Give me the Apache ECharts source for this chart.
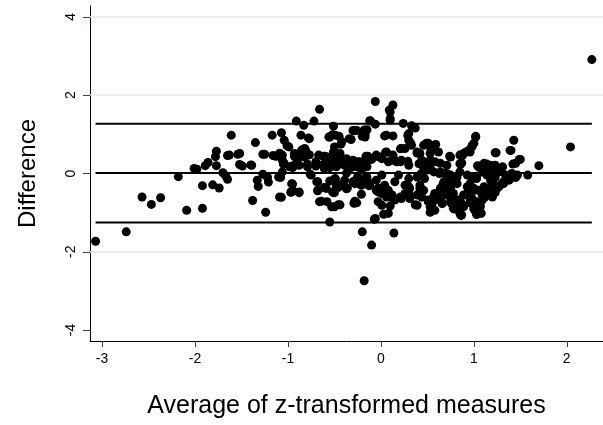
<!DOCTYPE html>
<html>
<head>
<meta charset="utf-8">
<script src="https://cdn.jsdelivr.net/npm/echarts@6/dist/echarts.min.js"></script>
<style>
  html, body { margin: 0; padding: 0; background: #fff; }
  #chart { width: 603px; height: 425px; }
</style>
</head>
<body>
<div id="chart"></div>
<script>
// Bland-Altman plot: average of z-transformed measures vs difference

// [average, difference] pairs
const points = [
  [-3.07,-1.73],[-2.74,-1.49],[-2.57,-0.60],[-2.47,-0.79],[-2.37,-0.62],[-2.18,-0.08],[-2.09,-0.94],[-2.01,0.13],
  [-1.98,0.11],[-1.92,-0.31],[-1.92,-0.89],[-1.89,0.20],[-1.86,0.28],[-1.81,-0.29],[-1.78,0.43],[-1.77,0.57],
  [-1.77,0.20],[-1.74,-0.37],[-1.70,0.02],[-1.67,-0.06],[-1.65,-0.15],[-1.65,0.46],[-1.61,0.98],[-1.54,0.49],
  [-1.52,0.23],[-1.49,0.19],[-1.40,0.22],[-1.38,-0.69],[-1.35,0.79],[-1.33,-0.17],[-1.32,-0.33],[-1.27,0.49],
  [-1.27,-0.02],[-1.24,-0.99],[-1.22,-0.10],[-1.21,-0.22],[-1.17,0.98],[-1.16,0.46],[-1.10,-0.09],[-1.09,-0.60],
  [-1.07,1.04],[-1.07,0.44],[-1.05,0.24],[-1.04,0.85],[-1.01,0.71],[-0.99,0.68],[-0.98,0.17],[-0.97,-0.48],
  [-0.96,-0.26],[-0.93,0.44],[-0.91,1.34],[-0.91,0.26],[-0.88,-0.49],[-0.86,0.98],[-0.85,0.60],[-0.83,1.23],
  [-0.82,0.64],[-0.80,0.46],[-0.79,0.24],[-0.78,0.91],[-0.76,-0.02],[-0.72,1.34],[-0.69,-0.21],[-0.68,-0.44],
  [-0.67,0.47],[-0.66,1.64],[-0.66,-0.72],[-0.61,0.13],[-0.60,0.44],[-0.59,-0.37],[-0.58,-0.72],[-0.56,0.40],
  [-0.55,-1.24],[-0.56,0.93],[-0.55,0.20],[-0.53,-0.85],[-0.51,1.21],[-0.52,0.99],[-0.51,-0.49],[-0.50,-0.14],
  [-0.50,0.68],[-0.48,-0.31],[-0.46,-0.80],[-0.46,0.23],[-0.45,0.95],[-0.44,0.51],[-0.43,0.75],[-0.41,0.33],
  [-0.37,-0.39],[-0.37,0.01],[-0.34,0.89],[-0.30,1.10],[-0.30,0.21],[-0.29,-0.76],[-0.26,-0.13],[-0.24,-0.25],
  [-0.22,0.26],[-0.21,-0.53],[-0.20,-1.49],[-0.20,0.95],[-0.18,-2.74],[-0.18,1.11],[-0.16,0.44],[-0.15,-0.09],
  [-0.13,-0.31],[-0.12,1.35],[-0.10,-1.83],[-0.07,-1.17],[-0.06,1.26],[-0.06,1.84],[-0.05,0.47],[-0.05,-0.17],
  [-0.03,-0.72],[-0.03,-0.47],[0.04,0.96],[0.03,-1.04],[0.05,0.54],[0.09,1.62],[0.10,1.40],[0.10,-0.60],
  [0.10,-0.83],[0.13,1.75],[0.13,0.96],[0.14,-1.52],[0.13,0.43],[0.21,-0.62],[0.21,0.63],[0.24,1.28],
  [0.29,0.97],[0.29,0.31],[0.30,-0.34],[0.33,1.22],[0.32,0.78],[0.37,1.16],[0.37,-0.80],[0.39,0.52],
  [0.42,-0.47],[0.48,0.75],[0.50,0.09],[0.51,-0.72],[0.53,-0.99],[0.54,0.60],[0.57,-0.58],[0.58,0.72],
  [0.63,0.00],[0.66,-0.75],[0.68,-0.21],[0.71,0.00],[0.74,0.44],[0.76,-0.48],[0.79,-0.91],[0.81,-0.85],
  [0.83,-0.68],[0.86,0.24],[0.86,-1.07],[0.88,0.47],[0.91,0.54],[0.96,-0.75],[0.98,0.71],[1.00,-0.91],
  [1.02,0.95],[1.03,-1.05],[1.04,0.20],[1.06,-0.81],[1.11,-0.58],[1.12,0.23],[1.19,-0.41],[1.23,-0.49],
  [1.24,0.53],[1.24,0.17],[1.31,0.17],[1.32,-0.21],[1.40,0.59],[1.42,0.24],[1.43,0.85],[1.45,-0.10],
  [1.49,0.36],[1.58,-0.04],[1.70,0.20],[2.04,0.68],[2.27,2.91],
  // left-centre cloud
  [-0.93,0.51],[-0.77,0.48],[-0.77,0.89],[-1.09,0.52],[-1.06,0.34],[-0.89,0.38],[-0.82,0.42],[-0.59,0.42],
  [-0.51,0.34],[-0.44,0.42],[-0.37,0.38],[-0.30,0.34],[-0.25,0.30],[-0.95,0.19],[-0.88,0.21],[-0.79,0.17],
  [-0.70,0.19],[-0.62,0.23],[-0.55,0.15],[-0.48,0.17],[-0.39,0.25],[-0.32,0.15],[-0.26,0.19],[-1.06,0.04],
  [-0.75,-0.04],[-1.08,-0.09],[-0.68,-0.21],[-0.55,-0.19],[-0.48,-0.24],[-0.39,-0.17],[-0.30,-0.21],[-0.25,-0.19],
  [-0.95,-0.43],[-0.88,-0.47],[-0.68,-0.43],[-0.61,-0.36],[-0.52,-0.47],[-0.46,-0.36],[-1.07,-0.61],[-0.64,-0.71],
  [-0.50,-0.85],[-0.44,-0.80],[-0.28,-0.71],[-0.55,0.93],[-0.49,0.98],[-0.42,0.81],[-0.32,0.87],[-0.28,1.09],
  [-0.16,1.09],[-0.17,0.93],[-1.63,0.47],[-1.52,0.51],[-1.39,0.21],[-1.25,0.49],[-1.13,0.44],[-1.06,0.47],
  [-1.04,0.26],[-0.95,0.15],[-0.86,0.55],[-0.81,0.59],[-0.70,0.30],[-0.62,0.44],[-0.55,0.42],[-0.51,0.55],
  [-0.44,0.34],[-0.39,0.21],[-0.32,0.27],[-0.19,0.30],[-0.14,0.44],[-0.05,0.44],[-1.08,-0.10],[-0.95,-0.27],
  [-0.96,-0.47],[-0.59,-0.38],[-0.49,-0.13],[-0.50,-0.49],[-0.42,-0.30],[-0.36,-0.37],[-0.28,-0.75],[-0.21,-0.26],
  [-0.12,-0.30],[-0.05,-0.43],
  // centre cloud
  [0.10,1.57],[-0.11,1.34],[0.10,1.36],[-0.26,1.10],[-0.15,1.12],[-0.17,0.99],[0.06,0.98],[0.30,0.85],
  [0.26,0.64],[0.39,0.55],[0.46,0.72],[0.06,0.55],[-0.23,0.30],[-0.14,0.34],[0.01,0.38],[0.08,0.30],
  [0.13,0.34],[0.17,0.30],[0.22,0.34],[0.30,0.21],[0.41,0.25],[0.44,0.34],[-0.26,0.17],[-0.21,0.08],
  [-0.15,0.17],[-0.25,-0.09],[-0.17,-0.13],[-0.28,-0.26],[-0.21,-0.30],[-0.14,-0.21],[0.01,-0.04],[-0.03,-0.38],
  [0.04,-0.30],[0.08,-0.43],[0.01,-0.51],[0.06,-0.60],[0.12,-0.55],[0.15,-0.68],[0.21,-0.60],[0.26,-0.51],
  [0.31,-0.64],[0.39,-0.55],[0.26,-0.30],[0.15,-0.21],[0.19,-0.04],[0.30,-0.13],[0.39,-0.09],[0.44,0.00],
  [0.42,-0.30],[0.46,0.17],[-0.26,-0.75],[0.01,-0.81],[0.08,-1.02],[0.39,-0.81],[-0.06,-1.15],
  [0.30,1.02],[0.33,0.72],[1.02,0.93],[1.00,0.77],[0.96,0.55],[0.85,0.47],[0.87,0.27],[0.75,0.42],
  [0.51,0.77],[0.59,0.74],[0.55,0.59],[0.62,0.55],[0.22,0.64],[-0.01,0.42],[-0.10,0.36],[0.13,0.47],
  [0.21,0.30],[0.46,0.30],[0.53,0.34],[0.64,0.26],[0.71,0.21],[1.07,0.19],[1.14,0.24],[1.23,0.53],
  // right cloud
  [0.98,0.68],[0.49,0.77],[0.53,0.51],[0.42,0.51],[0.89,0.51],[0.94,0.58],[0.85,0.25],[0.49,0.25],
  [0.58,0.30],[0.46,0.08],[0.53,0.13],[0.42,-0.04],[0.47,-0.13],[0.57,0.04],[1.05,0.17],[1.11,0.21],
  [1.14,0.13],[1.18,0.08],[1.27,0.08],[1.09,0.04],[1.14,-0.04],[1.18,-0.17],[1.23,-0.09],[0.64,0.04],
  [0.69,0.00],[0.75,-0.04],[0.82,-0.09],[0.85,0.04],[0.93,-0.04],[0.98,-0.13],[1.03,-0.07],[0.69,-0.26],
  [0.76,-0.21],[0.67,-0.43],[0.75,-0.38],[0.64,-0.60],[0.71,-0.55],[0.78,-0.51],[0.58,-0.68],[0.66,-0.77],
  [0.75,-0.72],[0.80,-0.77],[0.85,-0.68],[0.89,-0.85],[0.87,-1.06],[0.78,-0.89],[0.93,-0.34],[0.98,-0.47],
  [1.00,-0.38],[1.05,-0.43],[1.09,-0.55],[0.98,-0.64],[1.03,-0.72],[1.07,-0.85],[1.02,-0.98],[1.12,-0.60],
  [1.18,-0.43],[1.25,-0.38],[1.21,-0.26],[1.20,-0.60],[0.53,-0.85],[0.58,-0.94],[0.51,-0.68],[0.44,-0.60],
  [0.46,-0.43],[0.42,-0.38],[0.04,-0.51],[0.12,-0.60],[0.22,-0.64],[0.31,-0.55],[0.31,-0.38],[0.55,-0.77],
  [0.60,-0.64],[0.58,-0.51],[0.64,-0.38],[0.67,-0.26],[0.71,-0.43],[0.75,-0.60],[0.76,-0.77],[0.85,-1.02],
  [0.87,-0.77],[0.89,-0.55],[0.96,-0.64],[0.94,-0.43],[1.00,-0.85],[1.03,-1.02],[1.07,-0.77],[1.12,-0.51],
  [1.21,-0.43],[1.27,-0.34],[1.32,-0.26],[1.43,-0.09],[1.47,-0.04],[0.96,-0.26],[1.03,-0.13],[0.82,-0.26],
  [0.75,-0.13],[1.11,-0.34],[1.39,0.59],[1.50,0.36],[1.45,0.26],[1.11,0.26],[1.18,0.21],[1.23,0.21],
  [1.30,0.13],[1.21,0.00],[1.27,0.04],[1.34,-0.04],[1.41,0.00],[1.45,-0.09],[1.38,-0.17],[1.30,-0.26],
  [1.25,-0.34],[1.21,-0.47],[1.16,-0.38],[1.11,-0.51],[1.09,-0.68],[1.08,-1.02]
];

// mean difference and limits of agreement
const meanDiff = 0.01;
const upperLimit = 1.27;
const lowerLimit = -1.25;

const xTicks = [-3, -2, -1, 0, 1, 2];
const yTicks = [-4, -2, 0, 2, 4];
const gridLevels = [4, 2, -2];

// horizontal lines run from the smallest to the largest average
const xs = points.map(function(p) { return p[0]; });
const xLo = Math.min.apply(null, xs);
const xHi = Math.max.apply(null, xs);

function hLine(v) {
    return {
        type: 'line',
        data: [[xLo, v], [xHi, v]],
        symbol: 'none',
        silent: true,
        z: 4,
        lineStyle: { color: '#000', width: 2 }
    };
}

const chart = echarts.init(document.getElementById('chart'), null, { renderer: 'canvas' });

const FONT = 'Liberation Sans, Arial, sans-serif';

chart.setOption({
    animation: false,
    backgroundColor: '#fff',
    grid: { left: 90, right: 0, top: 6, bottom: 84 },
    xAxis: {
        type: 'value',
        min: -3.13,
        max: 2.39,
        name: 'Average of z-transformed measures',
        nameLocation: 'middle',
        nameGap: 53,
        nameTextStyle: { fontFamily: FONT, fontSize: 25, color: '#000' },
        axisLine: { show: true, onZero: false, lineStyle: { color: '#000', width: 1 } },
        axisTick: { show: true, length: 6, customValues: xTicks, lineStyle: { color: '#444' } },
        axisLabel: { customValues: xTicks, margin: 11, fontFamily: FONT, fontSize: 14, color: '#000' },
        splitLine: { show: false }
    },
    yAxis: {
        type: 'value',
        min: -4.28,
        max: 4.28,
        name: 'Difference',
        nameLocation: 'middle',
        nameRotate: 90,
        nameGap: 50,
        nameTextStyle: { fontFamily: FONT, fontSize: 24, color: '#000' },
        axisLine: { show: true, onZero: false, lineStyle: { color: '#000', width: 1 } },
        axisTick: { show: true, length: 7, customValues: yTicks, lineStyle: { color: '#444' } },
        axisLabel: { customValues: yTicks, rotate: 90, margin: 12, fontFamily: FONT, fontSize: 14, color: '#000' },
        splitLine: { show: false }
    },
    series: [
        {
            // light grid lines at the labelled levels
            type: 'line',
            data: [],
            silent: true,
            markLine: {
                silent: true,
                symbol: 'none',
                label: { show: false },
                lineStyle: { color: '#dfe6f0', width: 1.5, type: 'solid' },
                data: gridLevels.map(function(v) { return { yAxis: v }; })
            }
        },
        {
            type: 'scatter',
            data: points,
            symbol: 'circle',
            symbolSize: 9,
            z: 3,
            itemStyle: { color: '#000', opacity: 1 }
        },
        hLine(upperLimit),
        hLine(meanDiff),
        hLine(lowerLimit)
    ]
});
</script>
</body>
</html>
